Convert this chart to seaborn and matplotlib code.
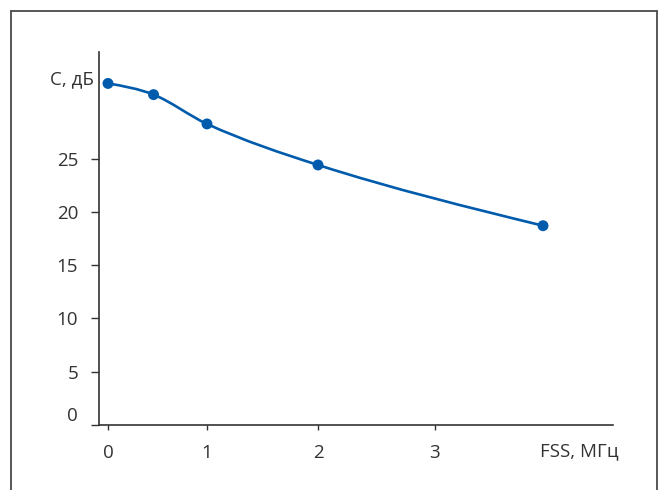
import numpy as np
import pandas as pd
import matplotlib
matplotlib.use("Agg")
import matplotlib.pyplot as plt
from matplotlib.path import Path
from matplotlib.patches import PathPatch
from matplotlib.lines import Line2D
import seaborn as sns

# ---- data ----
fss_mhz = [0, 0.46, 1, 2, 4]
c_db = [32.05, 31.0, 28.25, 24.4, 18.7]
x_ticks = [0, 1, 2, 3]
y_ticks = [0, 5, 10, 15, 20, 25]
x_label = "FSS, МГц"
y_label = "C, дБ"

df = pd.DataFrame({"fss": fss_mhz, "c": c_db})

sns.set_theme(style="white")
plt.rcParams["font.family"] = ["Open Sans", "DejaVu Sans"]

TEXT = "#333333"
AXC = "#333333"
BLUE = "#005bac"
FS = 13.5

W, H = 658, 490
fig = plt.figure(figsize=(W / 100, H / 100), dpi=100)
ax = fig.add_axes([99 / W, (H - 425) / H, (613 - 99) / W, (425 - 52) / H])

# piecewise-linear axis scale (uneven spacing of the original x axis)
A = np.array([0.0, 1.0, 2.0, 3.0, 4.0])
B = np.array([0.0, 99.0, 210.0, 327.0, 435.0])
s0 = (B[1] - B[0]) / (A[1] - A[0])
s1 = 108.0


def fwd(x):
    x = np.asarray(x, dtype=float)
    return np.where(x < A[0], B[0] + (x - A[0]) * s0,
                    np.where(x > A[-1], B[-1] + (x - A[-1]) * s1, np.interp(x, A, B)))


def inv(v):
    v = np.asarray(v, dtype=float)
    return np.where(v < B[0], A[0] + (v - B[0]) / s0,
                    np.where(v > B[-1], A[-1] + (v - B[-1]) / s1, np.interp(v, B, A)))


ax.set_xscale("function", functions=(fwd, inv))
ax.set_xlim(-9 / 99, 4 + 70 / 108)
ax.set_ylim(0, 35)

# smooth curve through the points (cubic Hermite -> Bezier, in pixel-like space)
ky = 10.64
X = fwd(df["fss"].values)
Y = df["c"].values * ky
n = len(X)
sec = np.diff(Y) / np.diff(X)
m = np.empty(n)
m[1:-1] = (sec[:-1] + sec[1:]) / 2.0
m[0] = (3 * sec[0] - m[1]) / 2.0
m[-1] = (3 * sec[-1] - m[-2]) / 2.0
verts = [(X[0], Y[0])]
codes = [Path.MOVETO]
for i in range(n - 1):
    h = X[i + 1] - X[i]
    verts += [(X[i] + h / 3, Y[i] + m[i] * h / 3),
              (X[i + 1] - h / 3, Y[i + 1] - m[i + 1] * h / 3),
              (X[i + 1], Y[i + 1])]
    codes += [Path.CURVE4] * 3
verts = np.array(verts)
verts_data = np.column_stack([inv(verts[:, 0]), verts[:, 1] / ky])
ax.add_patch(PathPatch(Path(verts_data, codes), facecolor="none",
                       edgecolor=BLUE, lw=1.9, zorder=2, capstyle="round"))

sns.scatterplot(data=df, x="fss", y="c", ax=ax, color=BLUE, s=62,
                edgecolor="none", zorder=3, legend=False)

# axes styling
for side in ["top", "right"]:
    ax.spines[side].set_visible(False)
for side in ["left", "bottom"]:
    ax.spines[side].set_color(AXC)
    ax.spines[side].set_linewidth(1.2)

ax.set_xticks(x_ticks)
ax.set_xticklabels([str(t) for t in x_ticks])
ax.set_yticks(y_ticks)
ax.set_yticklabels([str(t) for t in y_ticks])
ax.tick_params(axis="y", direction="out", length=6, width=1.0, color=AXC,
               pad=9, labelsize=FS, labelcolor=TEXT, left=True)
ax.tick_params(axis="x", direction="out", length=3.5, width=1.0, color=AXC,
               pad=10, labelsize=FS, labelcolor=TEXT, bottom=True)
ax.get_yticklabels()[0].set_va("bottom")

ax.set_xlabel(x_label, fontsize=FS, color=TEXT, ha="center", va="center")
ax.xaxis.set_label_coords((579 - 99) / 514, (425 - 451) / 373)
ax.set_ylabel(y_label, fontsize=FS, color=TEXT, rotation=0, ha="right", va="center")
ax.yaxis.set_label_coords((94 - 99) / 514, (425 - 79) / 373)
ax.grid(False)

# outer frame
fc = "#4a4a4a"
fig.add_artist(Line2D([10.5 / W, 10.5 / W], [0, (H - 11) / H], color=fc, lw=1.3))
fig.add_artist(Line2D([10.5 / W, 657 / W], [(H - 11) / H, (H - 11) / H], color=fc, lw=1.3))
fig.add_artist(Line2D([657 / W, 657 / W], [0, (H - 11) / H], color=fc, lw=1.3))

fig.savefig("out.png", dpi=100, facecolor="white")
